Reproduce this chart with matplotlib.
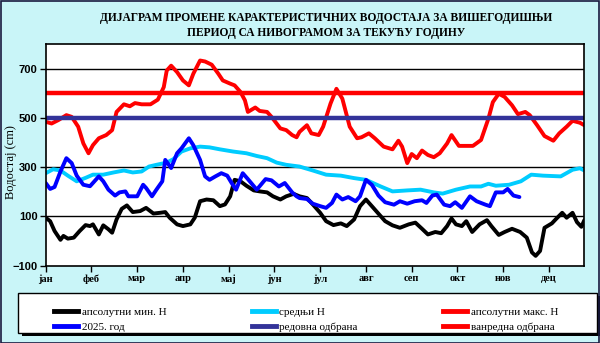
import matplotlib.pyplot as plt
import numpy as np
from matplotlib.patches import Rectangle
from matplotlib.lines import Line2D

# day of year vs water level (cm)
min_days = [0, 3, 6, 10, 12, 15, 19, 23, 27, 30, 32, 36, 39, 42.5, 45, 48, 51.5, 55, 59, 64, 68, 73,
            77.5, 81, 84, 89, 93, 98, 101, 104.6, 109, 113.6, 118, 121.5, 125, 128, 132, 136, 141,
            145, 150, 154, 159, 163, 168, 172, 177, 181, 186, 190, 195, 200, 204, 209, 213, 217,
            221, 226, 230, 235, 240, 246, 250.5, 255, 259, 264, 268, 272, 275, 278, 282, 285, 289,
            294, 299, 302, 307, 311, 316, 321.5, 326, 329.5, 332, 335, 338, 343, 346, 350, 353,
            357, 360, 363, 365]
min_level = [95, 81, 41, 5, 21, 10, 14, 41, 65, 61, 68, 27, 64, 48, 34, 88, 131, 145, 118, 122, 135,
             112, 115, 118, 95, 68, 61, 68, 95, 162, 169, 166, 142, 149, 182, 249, 243, 225, 206,
             202, 198, 182, 169, 182, 192, 182, 175, 149, 115, 81, 65, 72, 61, 88, 142, 169, 142,
             108, 81, 64, 54, 68, 75, 50, 27, 37, 32, 61, 92, 68, 61, 81, 37, 68, 85, 61, 25, 37,
             50, 37, 14, -46, -60, -40, 54, 72, 91, 115, 95, 115, 77, 58, 85]

mean_days = [0, 5, 10, 15, 21, 27, 32, 39, 46, 53, 59, 65, 70, 75, 82, 86.5, 92, 98, 104.6, 111,
             118, 127, 136, 143, 150, 156.5, 163, 172, 181, 190, 200, 209, 217, 227, 235, 245,
             254, 263, 269, 278, 287.5, 295, 300, 305, 314, 322, 329, 337, 349, 357, 362, 365]
mean_level = [276, 292, 287, 266, 243, 257, 270, 270, 279, 287, 279, 283, 303, 310, 319, 333, 364,
              377, 384, 381, 373, 364, 357, 346, 337, 319, 310, 303, 287, 270, 266, 256, 249, 222,
              202, 206, 209, 198, 193, 209, 222, 222, 233, 225, 229, 243, 270, 266, 263, 290, 296,
              287]

max_days = [0, 4, 8.6, 14, 17.6, 22, 25.5, 29, 32, 36, 41, 45, 48, 53, 57, 60.5, 65, 71, 76, 80, 82,
            85, 89, 93, 97, 100, 104.6, 108, 112.5, 117, 120, 125, 128, 132, 135, 137, 142, 145,
            150, 153, 159, 163, 167, 170, 172, 177, 180, 185, 188, 193, 197, 201, 206, 211, 214,
            219, 223, 229, 235, 239, 241.5, 245, 248, 251.5, 255, 259, 263, 267, 272, 275, 280,
            285, 289.5, 295, 300, 303, 307, 311, 316, 320, 325, 328, 333, 338, 344, 348, 353, 357,
            362, 365]
max_level = [485, 478, 492, 512, 505, 465, 397, 357, 390, 418, 431, 451, 525, 556, 548, 561, 556,
             556, 575, 626, 693, 713, 687, 653, 633, 680, 734, 730, 717, 680, 653, 640, 633, 606,
             572, 525, 543, 529, 525, 505, 458, 451, 431, 422, 444, 471, 438, 431, 465, 559, 619,
             579, 465, 418, 422, 438, 418, 384, 373, 408, 384, 317, 354, 337, 368, 350, 341, 357,
             397, 431, 387, 387, 387, 411, 498, 565, 599, 586, 552, 516, 525, 512, 471, 427, 408,
             438, 465, 489, 481, 471]

cur_days = [0, 3, 6, 10, 14, 17.6, 21, 25.5, 30, 36, 39, 42.5, 47, 50, 54, 56, 59, 62, 66, 68, 72,
            75, 79, 81, 85, 89, 92, 97, 100, 104.6, 108, 111, 115, 119, 123, 126, 129, 133.5, 137,
            143, 149, 153, 158, 162, 167, 170, 172, 177, 181, 186, 190, 194, 197, 201, 205, 210,
            213, 217, 221, 225.5, 230, 236, 240, 245, 250, 255, 258, 262, 265, 270, 274, 277.5,
            282, 287.5, 292, 298, 301, 305, 310, 313, 317, 321]
cur_level = [236, 212, 220, 283, 337, 317, 266, 229, 223, 263, 243, 209, 185, 198, 202, 182, 182,
             182, 229, 216, 182, 209, 243, 330, 297, 357, 377, 418, 390, 330, 263, 249, 263, 276,
             266, 236, 209, 276, 252, 209, 252, 247, 222, 236, 198, 182, 175, 171, 152, 142, 135,
             155, 189, 169, 179, 162, 182, 249, 229, 185, 158, 148, 162, 152, 162, 166, 155, 185,
             189, 148, 142, 158, 135, 182, 162, 148, 142, 198, 198, 212, 185, 179]

flood_regular = 500
flood_emergency = 600

months = ['јан', 'феб', 'мар', 'апр', 'мај', 'јун', 'јул', 'авг', 'сеп', 'окт', 'нов', 'дец']
month_ticks = np.arange(12) * 31

bg = '#c9f5f8'
fig = plt.figure(figsize=(6, 3.43), dpi=100, facecolor=bg)
ax = fig.add_axes([0.0762, 0.2254, 0.8977, 0.6455])

lw = 2.8
ax.plot(min_days, min_level, color='black', lw=lw, solid_joinstyle='round', solid_capstyle='round')
ax.plot(mean_days, mean_level, color='#00ccff', lw=lw, solid_joinstyle='round', solid_capstyle='round')
ax.plot(max_days, max_level, color='#ff0000', lw=lw, solid_joinstyle='round', solid_capstyle='round')
ax.plot(cur_days, cur_level, color='#0000ff', lw=lw, solid_joinstyle='round', solid_capstyle='round')
ax.axhline(flood_regular, color='#333399', lw=3.2)
ax.axhline(flood_emergency, color='#ff0000', lw=3.2)

ax.set_xlim(0, 365)
ax.set_ylim(-100, 800)
ax.set_yticks([-100, 100, 300, 500, 700])
ax.set_xticks(month_ticks)
ax.set_xticklabels(months, family='Liberation Serif', fontweight='bold', fontsize=7.5)
for t in ax.get_yticklabels():
    t.set_family('Liberation Sans')
    t.set_fontweight('bold')
    t.set_fontsize(8)
ax.tick_params(direction='out', length=4, width=1, color='black', pad=2)
for y in [100, 300, 500, 700]:
    ax.axhline(y, color='black', lw=1, zorder=0.5)
for s in ax.spines.values():
    s.set_linewidth(1.2)
ax.set_ylabel('Водостај (cm)', family='Liberation Serif', fontsize=9)
ax.yaxis.set_label_coords(-0.054, 0.47)

fig.text(0.543, 0.948, 'ДИЈАГРАМ ПРОМЕНЕ КАРАКТЕРИСТИЧНИХ ВОДОСТАЈА ЗА ВИШЕГОДИШЊИ',
         ha='center', va='center', family='Liberation Serif', fontweight='bold', fontsize=8.3)
fig.text(0.543, 0.905, 'ПЕРИОД СА НИВОГРАМОМ ЗА ТЕКУЋУ ГОДИНУ',
         ha='center', va='center', family='Liberation Serif', fontweight='bold', fontsize=8.3)

# legend frame with shadow
fig.patches.append(Rectangle((0.036, 0.020), 0.965, 0.117, transform=fig.transFigure,
                             facecolor='black', edgecolor='none', zorder=1))
fig.patches.append(Rectangle((0.030, 0.029), 0.965, 0.117, transform=fig.transFigure,
                             facecolor='white', edgecolor='black', lw=1, zorder=2))

handles = [Line2D([], [], color='black', lw=3.5),
           Line2D([], [], color='#0000ff', lw=3.5),
           Line2D([], [], color='#00ccff', lw=3.5),
           Line2D([], [], color='#333399', lw=3.5),
           Line2D([], [], color='#ff0000', lw=3.5),
           Line2D([], [], color='#ff0000', lw=3.5)]
labels = ['апсолутни мин. Н', '2025. год', 'средњи Н', 'редовна одбрана',
          'апсолутни макс. Н', 'ванредна одбрана']
leg = fig.legend(handles, labels, ncol=3, loc='lower left', frameon=False,
                 bbox_to_anchor=(0.09, 0.032, 0.84, 0.11), mode='expand',
                 prop={'family': 'Liberation Serif', 'size': 8},
                 handlelength=2.2, handletextpad=0.3, borderpad=0, borderaxespad=0,
                 labelspacing=0.5)
leg.set_zorder(3)

# outer border
fig.patches.append(Rectangle((0.001, 0.001), 0.997, 0.996, transform=fig.transFigure,
                             facecolor='none', edgecolor='#1a1a40', lw=1.2, zorder=4))

fig.savefig('out.png', dpi=100, facecolor=bg)
